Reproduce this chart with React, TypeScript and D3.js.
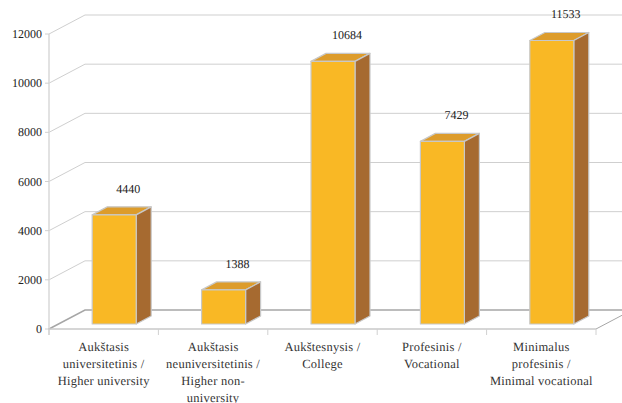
import React from "react";
import * as d3 from "d3";

const categories = [
  ["Aukštasis", "universitetinis /", "Higher university"],
  ["Aukštasis", "neuniversitetinis /", "Higher non-", "university"],
  ["Aukštesnysis /", "College"],
  ["Profesinis /", "Vocational"],
  ["Minimalus", "profesinis /", "Minimal vocational"],
];
const values = [4440, 1388, 10684, 7429, 11533];
const ticks = [0, 2000, 4000, 6000, 8000, 10000, 12000];

const W = 622, H = 403;
const x0 = 49, x1 = 596, floorY = 329;
const wallDx = 36, wallDy = -19;
const barDx = 15, barDy = -8;
const barW = 44, barBase = 324;
const font = "Liberation Serif";

export default function App() {
  const y = d3.scaleLinear().domain([0, 12000]).range([floorY, 34]);
  const x = d3.scaleBand<number>().domain(d3.range(categories.length)).range([x0, x1]);
  const h = (v: number) => floorY - y(v);
  return (
    <svg width={W} height={H} style={{ position: "absolute", left: 0, top: 0, background: "#fff" }} textRendering="geometricPrecision">
      {ticks.map((t) => (
        <path key={t} d={`M${x0},${y(t)}L${x0 + wallDx},${y(t) + wallDy}H${W}`} fill="none"
          stroke={t === 0 ? "#a6a6a6" : "#cfcfcf"} strokeWidth={t === 0 ? 1.5 : 1} />
      ))}
      <path d={`M${x1},${floorY}L${x1 + wallDx},${floorY + wallDy}`} stroke="#a6a6a6" fill="none" />
      <line x1={x0} x2={x0} y1={34} y2={floorY + 6} stroke="#d9d9d9" strokeWidth={1.5} />
      <line x1={x0 - 1} x2={x1} y1={floorY} y2={floorY} stroke="#c8c8c8" strokeWidth={1.5} />
      {d3.range(categories.length + 1).map((i) => {
        const px = x0 + (i * (x1 - x0)) / categories.length;
        return <line key={i} x1={px} x2={px} y1={floorY} y2={floorY + 6} stroke="#d0d0d0" />;
      })}
      {ticks.map((t) => (
        <line key={t} x1={x0 - 4} x2={x0} y1={y(t)} y2={y(t)} stroke="#d0d0d0" />
      ))}
      {ticks.map((t) => (
        <text key={t} x={42} y={y(t) + 4} textAnchor="end" style={{ fontFamily: font, fontSize: 12 }} fill="#222">{t}</text>
      ))}
      {values.map((v, i) => {
        const left = x(i)! + 43.5 - 0.3;
        const top = barBase - h(v);
        const r = left + barW;
        return (
          <g key={i} stroke="#c8c8c8" strokeWidth={1.2} strokeLinejoin="round">
            <path d={`M${left},${top}l${barDx},${barDy}h${barW}l${-barDx},${-barDy}z`} fill="#dd9c2b" />
            <path d={`M${r},${top}l${barDx},${barDy}V${barBase + barDy}l${-barDx},${-barDy}z`} fill="#a66a30" />
            <rect x={left} y={top} width={barW} height={h(v)} fill="#f9b825" />
            <text x={left + 36} y={top - 22} textAnchor="middle" style={{ fontFamily: font, fontSize: 12 }} fill="#222" stroke="none">{v}</text>
          </g>
        );
      })}
      {categories.map((lines, i) => (
        <text key={i} textAnchor="middle" style={{ fontFamily: font, fontSize: 12.5, letterSpacing: 0.25 }} fill="#333">
          {lines.map((l, j) => (
            <tspan key={j} x={x(i)! + x.bandwidth() / 2} y={351 + j * 17.1}>{l}</tspan>
          ))}
        </text>
      ))}
    </svg>
  );
}
